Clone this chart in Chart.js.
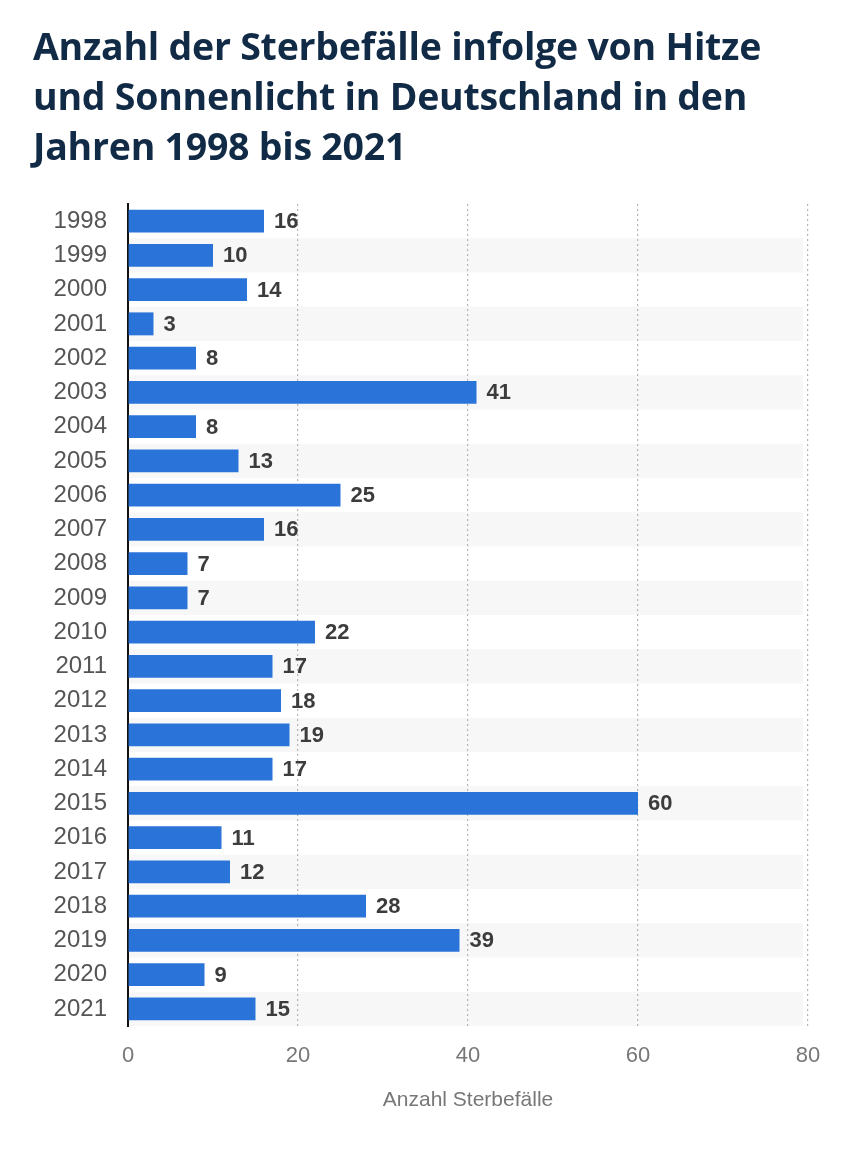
<!DOCTYPE html>
<html>
<head>
<meta charset="utf-8">
<script src="https://cdn.jsdelivr.net/npm/chart.js@4.4.1/dist/chart.umd.min.js"></script>
<style>
  html, body { margin: 0; padding: 0; background: #fff; }
  #wrap { position: relative; width: 851px; height: 1150px; overflow: hidden; }
  #title {
    position: absolute; left: 33px; top: 21px; width: 820px; white-space: nowrap;
    font-family: "Open Sans", sans-serif; font-weight: 700; font-size: 37.5px;
    line-height: 50px; color: #112a46; letter-spacing: -0.25px;
  }
  canvas { position: absolute; left: 0; top: 0; }
</style>
</head>
<body>
<div id="wrap">
  <canvas id="c" width="851" height="1150"></canvas>
  <div id="title">Anzahl der Sterbefälle infolge von Hitze<br>und Sonnenlicht in Deutschland in den<br>Jahren 1998 bis 2021</div>
</div>
<script>
const years = ["1998","1999","2000","2001","2002","2003","2004","2005","2006","2007","2008","2009","2010","2011","2012","2013","2014","2015","2016","2017","2018","2019","2020","2021"];
const deaths = [16,10,14,3,8,41,8,13,25,16,7,7,22,17,18,19,17,60,11,12,28,39,9,15];
const xTicks = [0,20,40,60,80];
const axisTitle = "Anzahl Sterbefälle";

const stripes = {
  id: 'stripes',
  beforeDraw(chart) {
    const {ctx, chartArea, scales} = chart;
    const y = scales.y;
    const step = (chartArea.bottom - chartArea.top) / years.length;
    ctx.save();
    ctx.fillStyle = '#f7f7f7';
    years.forEach((_, i) => {
      if (i % 2 === 1) {
        const cy = y.getPixelForValue(i);
        ctx.fillRect(chartArea.left, cy - step / 2, chartArea.right - chartArea.left - 5, step);
      }
    });
    ctx.restore();
  }
};

const valueLabels = {
  id: 'valueLabels',
  afterDatasetsDraw(chart) {
    const {ctx} = chart;
    const meta = chart.getDatasetMeta(0);
    ctx.save();
    ctx.font = 'bold 22px "Liberation Sans", Arial, sans-serif';
    ctx.fillStyle = '#3c3c3c';
    ctx.textBaseline = 'middle';
    ctx.textAlign = 'left';
    meta.data.forEach((bar, i) => {
      ctx.fillText(String(deaths[i]), bar.x + 10, bar.y + 1);
    });
    ctx.restore();
  }
};

new Chart(document.getElementById('c'), {
  type: 'bar',
  data: {
    labels: years,
    datasets: [{
      data: deaths,
      backgroundColor: '#2a74d9',
      borderWidth: 0,
      categoryPercentage: 1,
      barPercentage: 0.67
    }]
  },
  options: {
    indexAxis: 'y',
    responsive: false,
    animation: false,
    devicePixelRatio: 1,
    layout: { padding: { top: 204, right: 43, left: 0, bottom: 33 } },
    plugins: { legend: { display: false }, tooltip: { enabled: false } },
    scales: {
      y: {
        grid: { display: false, drawTicks: false },
        border: { display: true, color: '#111', width: 2 },
        ticks: {
          font: { family: '"Liberation Sans", Arial, sans-serif', size: 24 },
          color: '#555', padding: 21
        },
        afterFit(s) { s.width = 128; }
      },
      x: {
        min: 0, max: 80,
        afterBuildTicks(s) { s.ticks = xTicks.map(v => ({ value: v })); },
        grid: { color: '#b5b5b5', lineWidth: 1.2, drawTicks: false },
        border: { display: false, dash: [2, 3] },
        ticks: {
          font: { family: '"Liberation Sans", Arial, sans-serif', size: 22 },
          color: '#777', padding: 17
        },
        title: {
          display: true, text: axisTitle, color: '#777',
          font: { family: '"Liberation Sans", Arial, sans-serif', size: 21 }
        },
        afterFit(s) { s.height = 91; }
      }
    }
  },
  plugins: [stripes, valueLabels]
});
</script>
</body>
</html>
